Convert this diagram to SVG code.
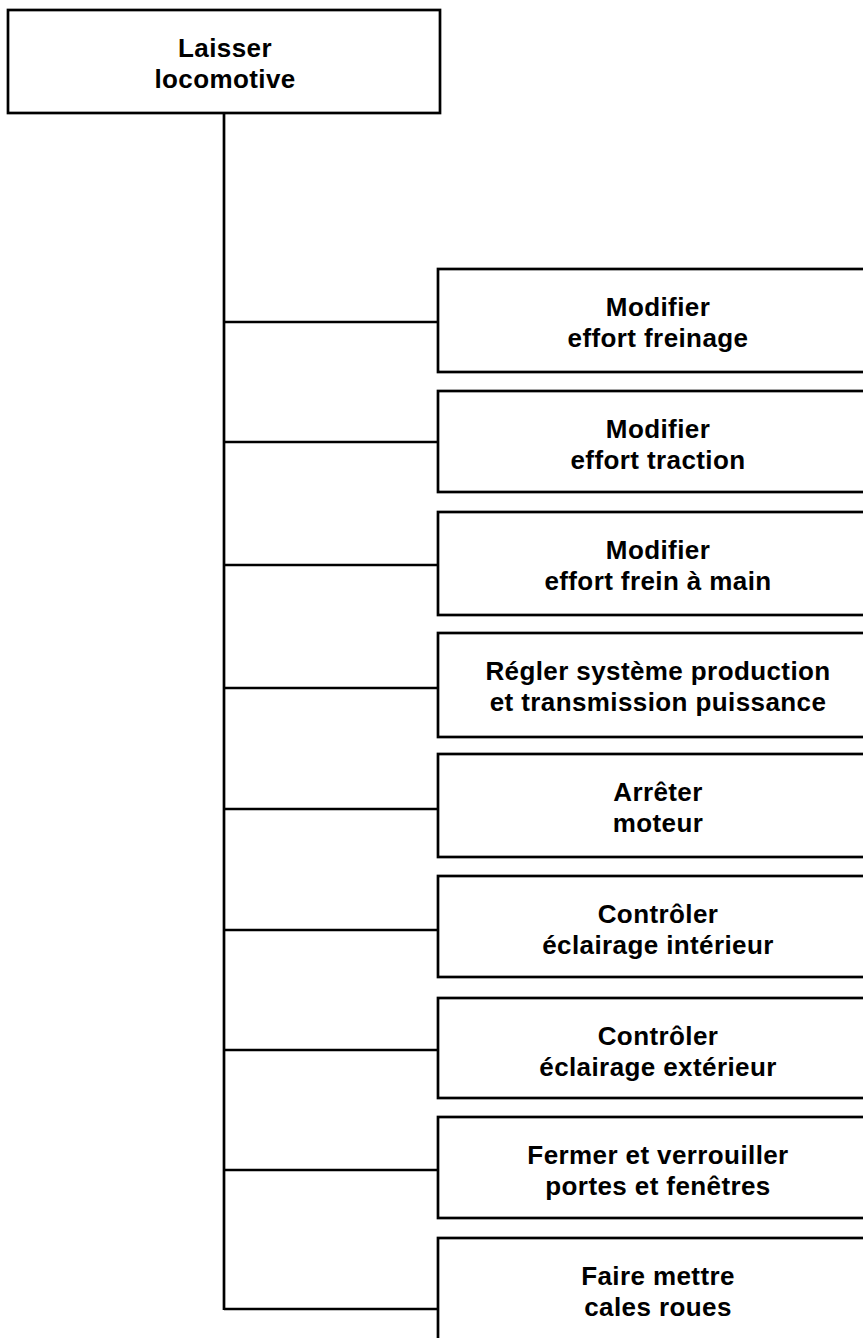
<svg xmlns="http://www.w3.org/2000/svg" width="863" height="1338" viewBox="0 0 863 1338">
<style>
.box{fill:#fff;stroke:#000;stroke-width:2.7}
.ln{stroke:#000;stroke-width:2.7;fill:none}
text{font-family:"Liberation Sans",Arial,sans-serif;font-size:26px;font-weight:bold;letter-spacing:0.4px;fill:#000;text-anchor:middle}
</style>
<rect width="863" height="1338" fill="#fff"/>
<g id="connectors">
<line class="ln" x1="224" y1="113" x2="224" y2="1310"/>
<line class="ln" x1="224" y1="322" x2="438" y2="322"/>
<line class="ln" x1="224" y1="442" x2="438" y2="442"/>
<line class="ln" x1="224" y1="565" x2="438" y2="565"/>
<line class="ln" x1="224" y1="688" x2="438" y2="688"/>
<line class="ln" x1="224" y1="809" x2="438" y2="809"/>
<line class="ln" x1="224" y1="930" x2="438" y2="930"/>
<line class="ln" x1="224" y1="1050" x2="438" y2="1050"/>
<line class="ln" x1="224" y1="1170" x2="438" y2="1170"/>
<line class="ln" x1="224" y1="1309" x2="438" y2="1309"/>
</g>
<g id="n0"><rect class="box" x="8" y="10" width="432" height="103"/><text x="225" y="57">Laisser</text><text x="225" y="88">locomotive</text></g>
<g id="n1"><rect class="box" x="438" y="269" width="440" height="103"/><text x="658" y="316">Modifier</text><text x="658" y="347">effort freinage</text></g>
<g id="n2"><rect class="box" x="438" y="391" width="440" height="101"/><text x="658" y="438">Modifier</text><text x="658" y="469">effort traction</text></g>
<g id="n3"><rect class="box" x="438" y="512" width="440" height="103"/><text x="658" y="559">Modifier</text><text x="658" y="590">effort frein à main</text></g>
<g id="n4"><rect class="box" x="438" y="633" width="440" height="104"/><text x="658" y="680">Régler système production</text><text x="658" y="711">et transmission puissance</text></g>
<g id="n5"><rect class="box" x="438" y="754" width="440" height="103"/><text x="658" y="801">Arrêter</text><text x="658" y="832">moteur</text></g>
<g id="n6"><rect class="box" x="438" y="876" width="440" height="101"/><text x="658" y="923">Contrôler</text><text x="658" y="954">éclairage intérieur</text></g>
<g id="n7"><rect class="box" x="438" y="998" width="440" height="100"/><text x="658" y="1045">Contrôler</text><text x="658" y="1076">éclairage extérieur</text></g>
<g id="n8"><rect class="box" x="438" y="1117" width="440" height="101"/><text x="658" y="1164">Fermer et verrouiller</text><text x="658" y="1195">portes et fenêtres</text></g>
<g id="n9"><rect class="box" x="438" y="1238" width="440" height="120"/><text x="658" y="1285">Faire mettre</text><text x="658" y="1316">cales roues</text></g>
</svg>
